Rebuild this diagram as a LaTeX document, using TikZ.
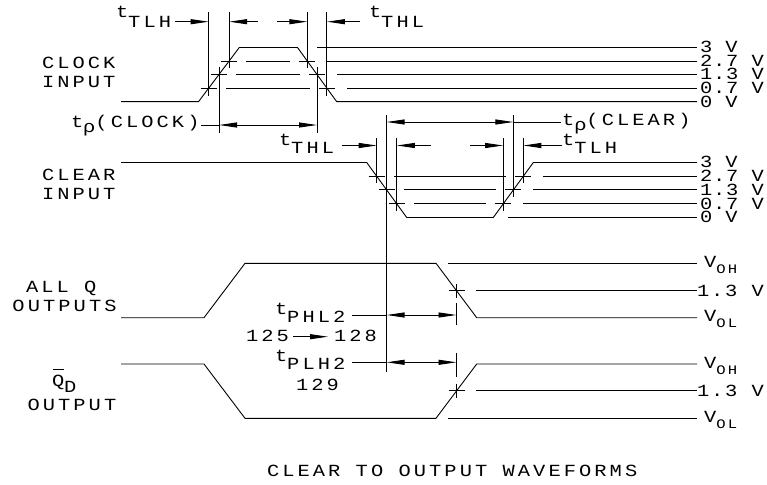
\documentclass[tikz,border=0pt]{standalone}
\usepackage{fontspec}
\usetikzlibrary{arrows.meta}
\newfontfamily\plotfont{Liberation Mono}[FakeStretch=1.2,LetterSpace=18]
\newfontfamily\rplotfont{Liberation Mono}[FakeStretch=1.2,LetterSpace=5]
\newfontfamily\bplotfont{Liberation Mono}[FakeStretch=1.2,LetterSpace=11]
\newcommand\txt{\plotfont\fontsize{17}{18}\selectfont}
\newcommand\rtxt{\rplotfont\fontsize{17}{18}\selectfont}
\newcommand\btxt{\bplotfont\fontsize{17}{18}\selectfont}
\newcommand\stxt{\plotfont\fontsize{13}{14}\selectfont}
\newcommand\crs[1]{\draw[ln] (#1) ++(-8,0) -- ++(16,0) (#1) ++(0,-7) -- ++(0,14);}
\begin{document}
\begin{tikzpicture}[x=1pt,y=-1pt,
  ln/.style={line width=0.9pt},
  every node/.style={inner sep=0pt, outer sep=0pt, font=\txt, anchor=base west},
  rlab/.style={font=\rtxt},
  blab/.style={font=\btxt},
  dim/.style={ln,-{Triangle[length=18pt,width=5pt]}},
  ddim/.style={ln,{Triangle[length=18pt,width=5pt]}-{Triangle[length=18pt,width=5pt]}}]
\useasboundingbox (0,0) rectangle (767,484);
% ---------------- CLOCK INPUT ----------------
\draw[ln] (121,101.7) -- (198.5,101.7) -- (239.3,47.5) -- (297.5,47.5) -- (336.7,101.7) -- (697,101.7);
\draw[ln] (317,47.5) -- (697,47.5);
\coordinate (c27a) at (229.1,61);   \coordinate (c27b) at (307.3,61);
\coordinate (c13a) at (219.0,74.5); \coordinate (c13b) at (317.0,74.5);
\coordinate (c07a) at (208.7,88.2); \coordinate (c07b) at (326.9,88.2);
\crs{c27a} \crs{c27b} \crs{c13a} \crs{c13b} \crs{c07a} \crs{c07b}
\draw[ln] (246,61) -- (290,61) (327,61) -- (697,61);
\draw[ln] (236,74.5) -- (300,74.5) (337,74.5) -- (697,74.5);
\draw[ln] (226,88.2) -- (310,88.2) (347,88.2) -- (697,88.2);
% extension lines
\draw[ln] (208.7,12) -- (208.7,96) (229.1,12) -- (229.1,68)
          (307.3,12) -- (307.3,68) (326.9,12) -- (326.9,96)
          (219,67) -- (219,133) (317,67) -- (317,133);
\draw[dim] (175,21.7) -- (208.7,21.7);
\draw[dim] (258,21.7) -- (229.1,21.7);
\draw[dim] (277,21.7) -- (307.3,21.7);
\draw[dim] (360,21.7) -- (326.9,21.7);
\draw[ln] (201,125) -- (219,125);
\draw[ddim] (219,125) -- (317,125);
% ---------------- CLEAR INPUT ----------------
\draw[ln] (121,162.5) -- (366.7,162.5) -- (406.7,217.5) -- (493.3,217.5) -- (533.3,162.5) -- (697,162.5);
\draw[ln] (508,217.5) -- (697,217.5);
\coordinate (r27a) at (376.7,176.2); \coordinate (r27b) at (523.3,176.2);
\coordinate (r13a) at (386.6,189.8); \coordinate (r13b) at (513.4,189.8);
\coordinate (r07a) at (396.8,203.9); \coordinate (r07b) at (503.2,203.9);
\crs{r27a} \crs{r27b} \crs{r13a} \crs{r13b} \crs{r07a} \crs{r07b}
\draw[ln] (394,176.2) -- (506,176.2) (543,176.2) -- (697,176.2);
\draw[ln] (404,189.8) -- (496,189.8) (533,189.8) -- (697,189.8);
\draw[ln] (414,203.9) -- (486,203.9) (523,203.9) -- (697,203.9);
\draw[ln] (376.7,138) -- (376.7,183) (396.8,138) -- (396.8,211)
          (503.2,138) -- (503.2,211) (523.3,138) -- (523.3,183)
          (386.6,115) -- (386.6,371.7) (513.4,115) -- (513.4,197);
\draw[dim] (341.7,145.5) -- (376.7,145.5);
\draw[dim] (431,145.5) -- (396.8,145.5);
\draw[dim] (470,145.5) -- (503.2,145.5);
\draw[dim] (562,145.5) -- (523.3,145.5);
\draw[ddim] (386.6,122) -- (513.4,122);
\draw[ln] (513.4,122) -- (561,122);
% ---------------- OUTPUTS ----------------
\draw[ln] (121,317.7) -- (204,317.7) -- (245,263.3) -- (436,263.3) -- (476.7,317.7) -- (697,317.7);
\draw[ln] (448.3,263.3) -- (697,263.3);
\coordinate (q13) at (456.5,290.7);
\crs{q13}
\draw[ln] (476,290.7) -- (697,290.7);
\draw[ln] (121,364) -- (204,364) -- (245,418.3) -- (436,418.3) -- (476.7,364) -- (697,364);
\draw[ln] (448.3,418.3) -- (697,418.3);
\coordinate (qb13) at (456.5,390.7);
\crs{qb13}
\draw[ln] (476,390.7) -- (697,390.7);
\draw[ln] (456.5,303) -- (456.5,325) (456.5,353) -- (456.5,377);
\draw[ln] (351.7,315) -- (386.6,315);
\draw[ddim] (386.6,315) -- (456.5,315);
\draw[ln] (351.7,362.3) -- (386.6,362.3);
\draw[ddim] (386.6,362.3) -- (456.5,362.3);
\draw[dim] (293,336.7) -- (328,336.7);
% ---------------- TEXT ----------------
\node (ckl1) at (42,68.3) {CLOCK};
\node (ckl2) at (42,87.7) {INPUT};
\node (cll1) at (42,180) {CLEAR};
\node (cll2) at (42,199.3) {INPUT};
\node (aq1) at (26,292.7) {ALL Q};
\node (aq2) at (12.5,311.7) {OUTPUTS};
\node (qbq) at (52,386) {Q\raisebox{-6.7pt}{D}};
\draw[ln] (53,369.5) -- (63.5,369.5);
\node (qbo) at (27.5,410.7) {OUTPUT};
\node (t1) at (116,18) {t\raisebox{-10pt}{TLH}};
\node (t2) at (369,18) {t\raisebox{-10pt}{THL}};
\node (t3) at (71,128) {t\raisebox{-5pt}{ρ}(CLOCK)};
\node (t4) at (562,125) {t\raisebox{-5pt}{ρ}(CLEAR)};
\node (t5) at (279,145) {t\raisebox{-8pt}{THL}};
\node (t6) at (562,145) {t\raisebox{-8pt}{TLH}};
\node (t7) at (275,314) {t\raisebox{-8.3pt}{PHL2}};
\node (n125) at (246,341.7) {125};
\node (n128) at (334,341.7) {128};
\node (t8) at (275,361.7) {t\raisebox{-7.6pt}{PLH2}};
\node (n129) at (296,390) {129};
% right labels
\node[rlab] (v1) at (700,52.8) {3 V};
\node[rlab] (v2) at (700,66.3) {2.7 V};
\node[rlab] (v3) at (700,79.8) {1.3 V};
\node[rlab] (v4) at (700,93.5) {0.7 V};
\node[rlab] (v5) at (700,107) {0 V};
\node[rlab] (w1) at (700,167.8) {3 V};
\node[rlab] (w2) at (700,181.5) {2.7 V};
\node[rlab] (w3) at (700,195.1) {1.3 V};
\node[rlab] (w4) at (700,209.2) {0.7 V};
\node[rlab] (w5) at (700,222.8) {0 V};
\node (o1) at (704,267.3) {V\raisebox{-6pt}{\stxt OH}};
\node[blab] (o2) at (697,296) {1.3 V};
\node (o3) at (704,321.7) {V\raisebox{-6pt}{\stxt OL}};
\node (o4) at (704,368) {V\raisebox{-6pt}{\stxt OH}};
\node[blab] (o5) at (697,396) {1.3 V};
\node (o6) at (704,422.3) {V\raisebox{-6pt}{\stxt OL}};
\node (ttl) at (267,476.7) {CLEAR TO OUTPUT WAVEFORMS};
\end{tikzpicture}
\end{document}
